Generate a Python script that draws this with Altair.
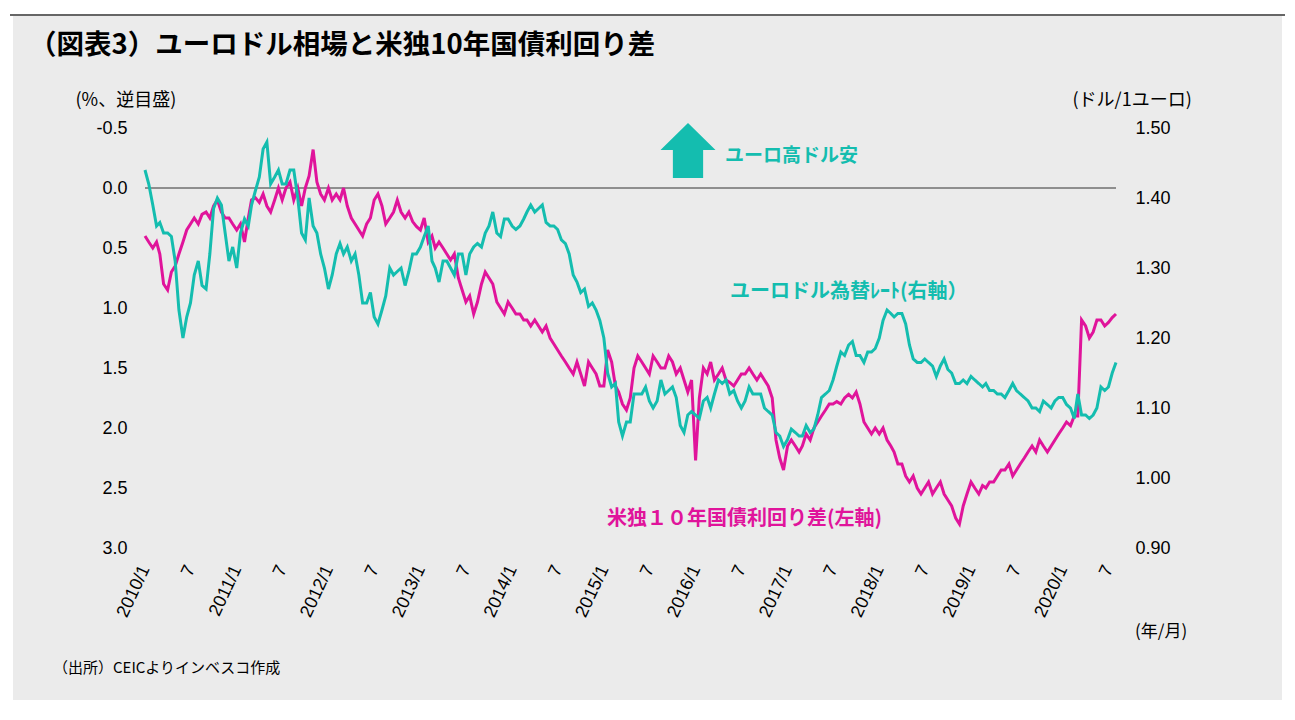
import altair as alt
import pandas as pd

# semi-monthly observations (1st and 16th of each month), 2010/1 - 2020/7
years = list(range(2010, 2021))

eurusd = [
    # 2010
    1.44, 1.42, 1.39, 1.36, 1.365, 1.35, 1.35, 1.345, 1.31, 1.24, 1.20, 1.23,
    1.25, 1.29, 1.31, 1.275, 1.27, 1.32, 1.385, 1.40, 1.39, 1.35, 1.31, 1.33,
    # 2011
    1.30, 1.35, 1.37, 1.36, 1.39, 1.41, 1.43, 1.47, 1.48, 1.42, 1.43, 1.44,
    1.42, 1.42, 1.44, 1.44, 1.40, 1.35, 1.34, 1.40, 1.36, 1.35, 1.32, 1.30,
    # 2012
    1.27, 1.29, 1.32, 1.335, 1.32, 1.33, 1.31, 1.32, 1.29, 1.25, 1.25, 1.265,
    1.23, 1.22, 1.24, 1.26, 1.30, 1.29, 1.295, 1.30, 1.275, 1.295, 1.32, 1.32,
    # 2013
    1.33, 1.345, 1.36, 1.31, 1.30, 1.28, 1.31, 1.31, 1.30, 1.29, 1.32, 1.32,
    1.29, 1.32, 1.33, 1.335, 1.33, 1.35, 1.36, 1.38, 1.35, 1.345, 1.37, 1.37,
    # 2014
    1.36, 1.355, 1.36, 1.37, 1.38, 1.39, 1.38, 1.385, 1.39, 1.365, 1.36, 1.36,
    1.355, 1.34, 1.335, 1.32, 1.29, 1.28, 1.265, 1.27, 1.245, 1.25, 1.24, 1.225,
    # 2015
    1.20, 1.15, 1.13, 1.135, 1.08, 1.06, 1.08, 1.08, 1.12, 1.12, 1.12, 1.13,
    1.11, 1.10, 1.11, 1.14, 1.12, 1.125, 1.13, 1.115, 1.075, 1.065, 1.09, 1.095,
    # 2016
    1.09, 1.085, 1.11, 1.115, 1.10, 1.12, 1.14, 1.135, 1.14, 1.12, 1.125, 1.11,
    1.10, 1.11, 1.13, 1.12, 1.12, 1.12, 1.10, 1.095, 1.09, 1.065, 1.06, 1.045,
    # 2017
    1.055, 1.07, 1.065, 1.06, 1.06, 1.075, 1.065, 1.07, 1.09, 1.115, 1.12, 1.125,
    1.14, 1.16, 1.18, 1.175, 1.19, 1.195, 1.175, 1.175, 1.165, 1.18, 1.18, 1.185,
    # 2018
    1.20, 1.225, 1.24, 1.235, 1.23, 1.235, 1.235, 1.22, 1.19, 1.17, 1.165, 1.165,
    1.17, 1.165, 1.16, 1.145, 1.16, 1.17, 1.155, 1.15, 1.135, 1.135, 1.14, 1.135,
    # 2019
    1.145, 1.14, 1.135, 1.13, 1.135, 1.125, 1.125, 1.12, 1.12, 1.115, 1.125, 1.135,
    1.125, 1.12, 1.115, 1.11, 1.10, 1.10, 1.095, 1.11, 1.105, 1.10, 1.11, 1.115,
    # 2020 (to end of July)
    1.115, 1.105, 1.10, 1.085, 1.12, 1.09, 1.09, 1.085, 1.09, 1.10, 1.13, 1.125,
    1.13, 1.15, 1.165,
]

spread = [
    # 2010
    0.40, 0.45, 0.50, 0.45, 0.55, 0.80, 0.85, 0.70, 0.65, 0.55, 0.45, 0.35,
    0.30, 0.25, 0.30, 0.22, 0.20, 0.25, 0.15, 0.10, 0.20, 0.25, 0.25, 0.30,
    # 2011
    0.35, 0.30, 0.45, 0.25, 0.10, 0.08, 0.12, 0.05, 0.15, 0.20, 0.10, 0.00,
    0.10, 0.00, -0.05, 0.10, 0.00, 0.15, 0.00, -0.10, -0.32, -0.05, 0.05, 0.10,
    # 2012
    0.00, 0.10, 0.05, 0.10, 0.00, 0.15, 0.25, 0.30, 0.35, 0.40, 0.30, 0.25,
    0.10, 0.05, 0.15, 0.30, 0.25, 0.20, 0.10, 0.20, 0.25, 0.20, 0.28, 0.32,
    # 2013
    0.35, 0.25, 0.45, 0.40, 0.50, 0.45, 0.50, 0.55, 0.60, 0.55, 0.75, 0.85,
    0.95, 0.90, 1.05, 0.95, 0.80, 0.70, 0.75, 0.80, 0.95, 1.00, 1.05, 0.95,
    # 2014
    1.00, 1.05, 1.05, 1.10, 1.10, 1.15, 1.10, 1.15, 1.20, 1.15, 1.25, 1.30,
    1.35, 1.40, 1.45, 1.50, 1.55, 1.45, 1.55, 1.65, 1.45, 1.50, 1.55, 1.65,
    # 2015
    1.65, 1.35, 1.45, 1.65, 1.70, 1.80, 1.85, 1.75, 1.50, 1.40, 1.45, 1.50,
    1.55, 1.40, 1.45, 1.50, 1.50, 1.40, 1.45, 1.55, 1.50, 1.60, 1.70, 1.60,
    # 2016
    2.27, 1.75, 1.50, 1.55, 1.45, 1.60, 1.55, 1.50, 1.60, 1.62, 1.65, 1.60,
    1.55, 1.55, 1.50, 1.55, 1.60, 1.55, 1.60, 1.65, 1.75, 2.10, 2.25, 2.35,
    # 2017
    2.15, 2.10, 2.15, 2.20, 2.15, 2.05, 2.10, 2.00, 1.95, 1.90, 1.85, 1.80,
    1.80, 1.78, 1.80, 1.75, 1.72, 1.75, 1.70, 1.80, 1.95, 2.00, 2.05, 2.00,
    # 2018
    2.05, 2.00, 2.10, 2.15, 2.20, 2.30, 2.30, 2.40, 2.45, 2.40, 2.50, 2.55,
    2.50, 2.45, 2.55, 2.50, 2.45, 2.55, 2.60, 2.65, 2.75, 2.80, 2.65, 2.55,
    # 2019
    2.45, 2.50, 2.55, 2.48, 2.50, 2.45, 2.45, 2.40, 2.35, 2.35, 2.30, 2.40,
    2.35, 2.30, 2.25, 2.20, 2.15, 2.20, 2.10, 2.15, 2.20, 2.15, 2.10, 2.05,
    # 2020 (to end of July)
    2.00, 1.95, 1.98, 1.90, 1.90, 1.10, 1.15, 1.25, 1.20, 1.10, 1.10, 1.15,
    1.12, 1.08, 1.05,
]

dates = []
for y in years:
    for m in range(1, 13):
        if y == 2020 and m > 7:
            break
        for d in (1, 16):
            dates.append(f"{y}-{m:02d}-{d:02d}")
dates.append("2020-07-31")

left_ticks = [-0.5, 0.0, 0.5, 1.0, 1.5, 2.0, 2.5, 3.0]
right_ticks = [0.90, 1.00, 1.10, 1.20, 1.30, 1.40, 1.50]

title_text = "（図表3）ユーロドル相場と米独10年国債利回り差"
left_title = "(%、逆目盛)"
right_title = "(ドル/1ユーロ)"
arrow_label = "ユーロ高ドル安"
eur_label = "ユーロドル為替ﾚｰﾄ(右軸）"
spread_label = "米独１０年国債利回り差(左軸)"
xunit_label = "(年/月)"
source_label = "（出所）CEICよりインベスコ作成"

df = pd.DataFrame({"date": dates, "eurusd": eurusd, "spread": spread})
df["zero"] = 0.0

TEAL = "#14BDAF"
MAGENTA = "#E0149B"
JP = "Noto Sans CJK JP"
NUM = "Liberation Sans"

x_enc = alt.X(
    "date:T",
    scale=alt.Scale(
        type="utc",
        domain=[alt.DateTime(year=2010, month=1, date=1, utc=True),
                alt.DateTime(year=2020, month=7, date=31, utc=True)],
    ),
    axis=alt.Axis(
        values=[alt.DateTime(year=y, month=m, date=1, utc=True) for y in years for m in (1, 7)],
        labelExpr="utcmonth(datum.value) == 0 ? utcyear(datum.value) + '/1' : '7'",
        labelAngle=295, labelAlign="right", labelBaseline="middle",
        labelPadding=18, labelOverlap=False, labelBound=False,
        title=None, zindex=2,
    ),
)

left_scale = alt.Scale(domain=[-0.5, 3.0], reverse=True, nice=False, zero=False)
right_scale = alt.Scale(domain=[0.9, 1.5], nice=False, zero=False)

left_axis = alt.Axis(
    orient="left", values=left_ticks,
    labelExpr="datum.value < 0 ? '-' + format(-datum.value, '.1f') : format(datum.value, '.1f')",
    labelPadding=18, title=left_title, titleAngle=0, titleAlign="left",
    titleBaseline="middle", titleX=-70, titleY=-28, zindex=2,
)

spread_line = alt.Chart(df).mark_line(color=MAGENTA, strokeWidth=3).encode(
    x=x_enc,
    y=alt.Y("spread:Q", scale=left_scale, axis=left_axis),
)

zero_rule = alt.Chart(df).mark_rule(color="#333333", strokeWidth=1).encode(
    y=alt.Y("mean(zero):Q", scale=left_scale, axis=left_axis),
)

eur_line = alt.Chart(df).mark_line(color=TEAL, strokeWidth=3).encode(
    x=x_enc,
    y=alt.Y("eurusd:Q", scale=right_scale, axis=alt.Axis(
        orient="right", values=right_ticks, format=".2f",
        labelPadding=19, title=right_title, titleAngle=0, titleAlign="left",
        titleBaseline="middle", titleX=-44, titleY=-28, zindex=2,
    )),
)

one = alt.Data(values=[{"k": 0}])


def white_box(x, x2, y, y2):
    return alt.Chart(one).mark_rect(color="white").encode(
        x=alt.value(x), x2=alt.value(x2), y=alt.value(y), y2=alt.value(y2)
    )


margins = [
    white_box(-140, -132, -122, 590),
    white_box(1137, 1145, -122, 590),
    white_box(-140, 1145, -122, -112),
    white_box(-140, 1145, 572, 590),
]

top_line = alt.Chart(one).mark_rule(color="#333333", strokeWidth=1.5).encode(
    x=alt.value(-135), x2=alt.value(1140), y=alt.value(-113)
)


def label(text, x, y, size, color="black", weight="normal", font=JP):
    return alt.Chart(one).mark_text(
        text=text, align="left", baseline="middle", font=font,
        fontSize=size, fontWeight=weight, color=color,
    ).encode(x=alt.value(x), y=alt.value(y))


arrow = alt.Chart(one).mark_point(
    shape="M0,-1 L1,-0.02 L0.55,-0.02 L0.55,1 L-0.55,1 L-0.55,-0.02 L-1,-0.02 Z",
    filled=True, fill=TEAL, color=TEAL, opacity=1, size=3025, strokeWidth=0,
).encode(x=alt.value(543), y=alt.value(22.5))

texts = [
    label(title_text, -116, -82, 27.5, weight="bold"),
    label(arrow_label, 580, 28, 19, TEAL, "bold"),
    label(eur_label, 585, 164, 20, TEAL, "bold"),
    label(spread_label, 462, 391, 20, MAGENTA, "bold"),
    label(xunit_label, 990, 504, 17),
    label(source_label, -92, 540, 15),
]

left = alt.layer(zero_rule, spread_line)

chart = alt.layer(
    *margins, top_line, left, eur_line, arrow, *texts
).resolve_scale(y="independent").properties(
    width=971, height=420,
    padding={"left": 137, "top": 120, "right": 171, "bottom": 164},
    autosize=alt.AutoSizeParams(type="none"),
    background="#EBEBEB",
).configure_view(strokeWidth=0).configure_axis(
    labelFont=NUM, labelFontSize=18, labelColor="black",
    titleFont=JP, titleFontSize=18, titleFontWeight="normal", titleColor="black",
    domain=False, ticks=False, tickSize=0, grid=False,
)

chart.save("out.html", embed_options={"renderer": "svg", "actions": False})
